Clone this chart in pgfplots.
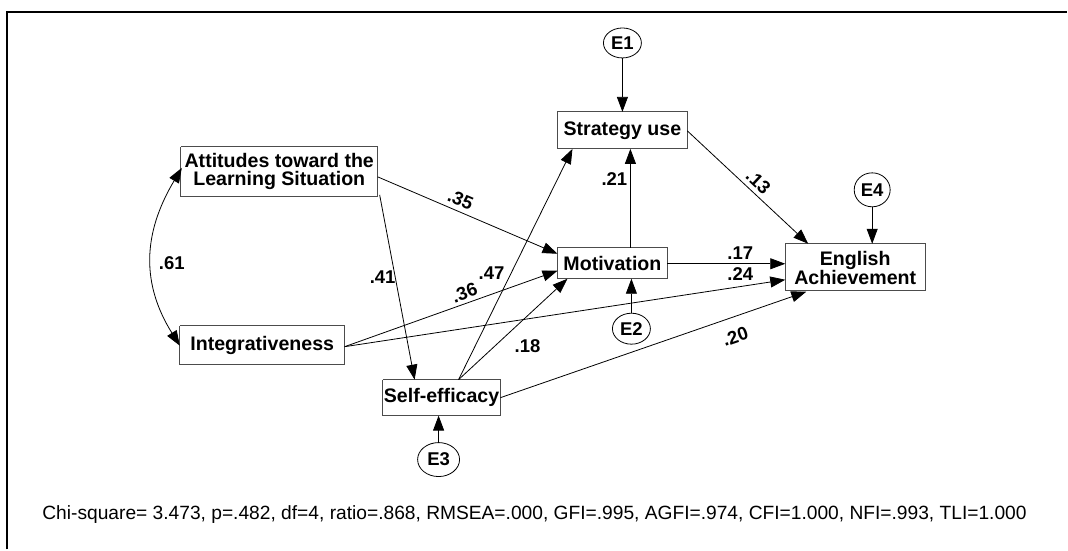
\documentclass[border=0pt]{standalone}
\usepackage{fontspec}
\setmainfont{Liberation Sans}
\usepackage{pgfplots}
\pgfplotsset{compat=1.18}
\usetikzlibrary{arrows.meta}

% one axis unit = one pixel of the reference, y runs downwards
\newcommand\lab{\fontsize{19.6}{18}\selectfont\bfseries}
\newcommand\coef{\fontsize{18.5}{18}\selectfont\bfseries}

\begin{document}
\begin{tikzpicture}
\begin{axis}[
    width=1068pt, height=550pt, scale only axis,
    xmin=0, xmax=1068, ymin=0, ymax=550,
    y dir=reverse,
    axis lines=none,
    clip=false,
    box/.style={draw=black!70, line width=1.2pt},
    path/.style={black, line width=0.8pt, -{Triangle[length=15pt,width=11pt]}},
]
\path (axis cs:0,0) rectangle (axis cs:1068,550);
% frame
\addplot[black, line width=2pt] coordinates {(7,550) (7,12) (1068,12)};

% observed variables
\addplot[box] coordinates {(181,147) (378,147) (378,197) (181,197) (181,147)}; % attitudes
\addplot[box] coordinates {(180,326) (345,326) (345,365) (180,365) (180,326)}; % integrativeness
\addplot[box] coordinates {(383,380) (501,380) (501,416) (383,416) (383,380)}; % self-efficacy
\addplot[box] coordinates {(558,112) (688,112) (688,149) (558,149) (558,112)}; % strategy use
\addplot[box] coordinates {(558,248) (668,248) (668,279) (558,279) (558,248)}; % motivation
\addplot[box] coordinates {(786,244) (926,244) (926,291) (786,291) (786,244)}; % english achievement

\node[font=\lab, align=center] at (axis cs:279.5,172) {Attitudes toward the\\Learning Situation};
\node[font=\lab] at (axis cs:262.5,346) {Integrativeness};
\node[font=\lab] at (axis cs:442,398) {Self-efficacy};
\node[font=\lab] at (axis cs:623,131) {Strategy use};
\node[font=\lab] at (axis cs:613,264) {Motivation};
\node[font=\lab, align=center] at (axis cs:856,268) {English\\Achievement};

% error terms
\draw[line width=0.8pt] (axis cs:623,43) ellipse [x radius=19pt, y radius=15pt];
\draw[line width=0.8pt] (axis cs:632,329) ellipse [x radius=19pt, y radius=15.5pt];
\draw[line width=0.8pt] (axis cs:439,460) ellipse [x radius=21pt, y radius=17pt];
\draw[line width=0.8pt] (axis cs:873,190) ellipse [x radius=18pt, y radius=17pt];
\node[font=\coef] at (axis cs:623,43) {E1};
\node[font=\coef] at (axis cs:632,329) {E2};
\node[font=\coef] at (axis cs:439,460) {E3};
\node[font=\coef] at (axis cs:873,190) {E4};

% paths
\addplot[path] coordinates {(623,58) (623,112)};
\addplot[path] coordinates {(873,207) (873,244)};
\addplot[path] coordinates {(632,313) (632,279)};
\addplot[path] coordinates {(439,443) (439,416)};
\addplot[path] coordinates {(631,248) (631,149)};
\addplot[path] coordinates {(688,131) (809,244)};
\addplot[path] coordinates {(668,264) (786,264)};
\addplot[path] coordinates {(345,347) (786,280)};
\addplot[path] coordinates {(501,398) (807,292)};
\addplot[path] coordinates {(378,177) (558,254)};
\addplot[path] coordinates {(380,195) (415,380)};
\addplot[path] coordinates {(345,347) (558,271)};
\addplot[path] coordinates {(459,380) (573,149)};
\addplot[path] coordinates {(459,380) (568,279)};

% correlation
\draw[line width=0.8pt, {Triangle[length=15pt,width=11pt]}-{Triangle[length=15pt,width=11pt]}]
  (axis cs:182,168) .. controls (axis cs:142,235) and (axis cs:142,285) .. (axis cs:180,346);

% coefficients
\node[font=\coef] at (axis cs:172,263) {.61};
\node[font=\coef, rotate=-23] at (axis cs:461,200) {.35};
\node[font=\coef] at (axis cs:383,277) {.41};
\node[font=\coef, rotate=20] at (axis cs:465,293) {.36};
\node[font=\coef] at (axis cs:492,273) {.47};
\node[font=\coef] at (axis cs:528,346) {.18};
\node[font=\coef] at (axis cs:615,179) {.21};
\node[font=\coef, rotate=-43] at (axis cs:759,182) {.13};
\node[font=\coef] at (axis cs:741,253) {.17};
\node[font=\coef] at (axis cs:741,274) {.24};
\node[font=\coef, rotate=19] at (axis cs:736,337) {.20};

% fit indices
\node[font=\fontsize{19.2}{19}\selectfont] at (axis cs:535,515)
  {Chi-square= 3.473, p=.482, df=4, ratio=.868, RMSEA=.000, GFI=.995, AGFI=.974, CFI=1.000, NFI=.993, TLI=1.000};
\end{axis}
\end{tikzpicture}
\end{document}
